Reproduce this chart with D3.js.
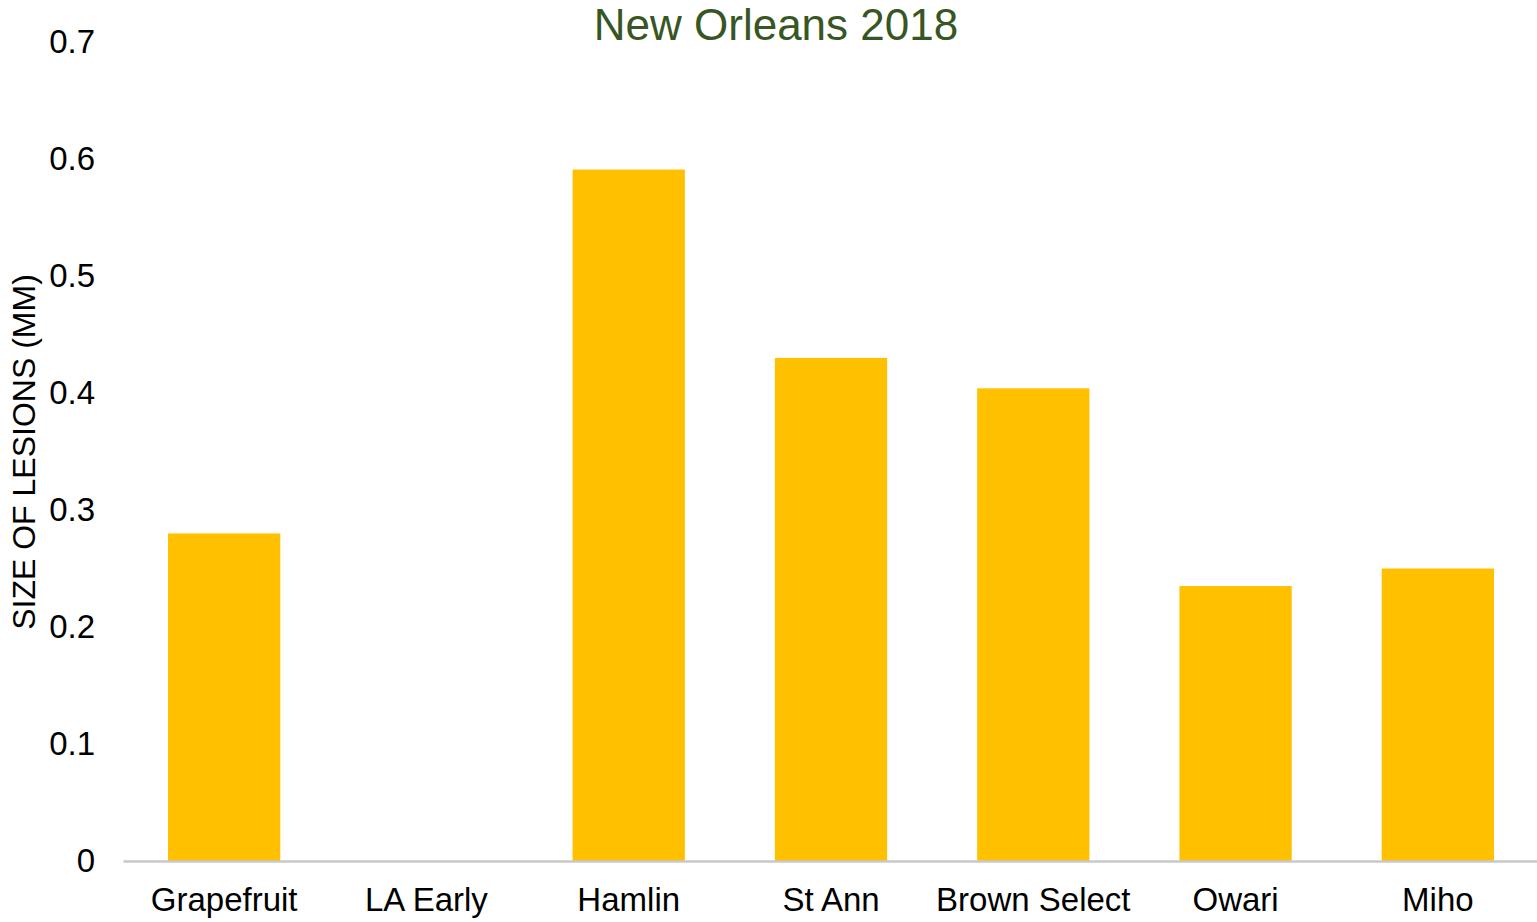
<!DOCTYPE html>
<html><head><meta charset="utf-8">
<script src="https://cdn.jsdelivr.net/npm/d3@7"></script>
<style>body{margin:0;background:#fff;}svg{display:block;font-family:"Liberation Sans",Arial,sans-serif;}</style>
</head><body>
<svg id="c" width="1537" height="922"></svg>
<script>
const categories = ["Grapefruit","LA Early","Hamlin","St Ann","Brown Select","Owari","Miho"];
const values = [0.28, 0, 0.591, 0.43, 0.404, 0.235, 0.25];
const yTicks = [0,0.1,0.2,0.3,0.4,0.5,0.6,0.7];
const title = "New Orleans 2018";
const yLabel = "SIZE OF LESIONS (MM)";

const svg = d3.select("#c");
const x = d3.scaleBand().domain(categories).range([123,1539]).paddingInner(0.445).paddingOuter(0.2225);
const y = d3.scaleLinear().domain([0,0.7]).range([861,42]);

svg.selectAll("rect.bar").data(categories).join("rect").attr("class","bar")
  .attr("x",d=>x(d)).attr("width",x.bandwidth())
  .attr("y",(d,i)=>y(values[i])).attr("height",(d,i)=>y(0)-y(values[i]))
  .attr("fill","#ffc000");

const ya = svg.append("g").attr("transform","translate(95,0)")
  .call(d3.axisLeft(y).tickValues(yTicks).tickSize(0).tickPadding(0).tickFormat(d=>d===0?"0":d3.format(".1f")(d)));
ya.select(".domain").remove();
ya.selectAll("text").attr("font-size",33).attr("font-family","Liberation Sans, Arial, sans-serif").attr("fill","#000");

const xa = svg.append("g").attr("transform","translate(0,861)")
  .call(d3.axisBottom(x).tickSize(0).tickPadding(27));
xa.select(".domain").attr("stroke","#c8c8c8").attr("stroke-width",2.5);
xa.selectAll("text").attr("font-size",33).attr("font-family","Liberation Sans, Arial, sans-serif").attr("fill","#000");

svg.append("text").attr("x",776).attr("y",40).attr("text-anchor","middle")
  .attr("font-size",44).attr("fill","#375623").text(title);

svg.append("text").attr("transform","translate(35,452) rotate(-90)").attr("text-anchor","middle")
  .attr("font-size",32).attr("fill","#000").text(yLabel);
</script>
</body></html>
